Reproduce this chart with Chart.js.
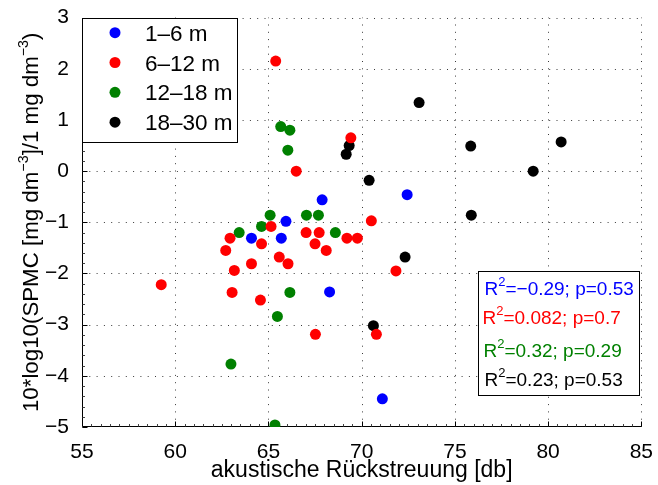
<!DOCTYPE html>
<html><head><meta charset="utf-8">
<script src="https://cdn.jsdelivr.net/npm/chart.js@4/dist/chart.umd.min.js"></script>
<style>html,body{margin:0;padding:0;background:#fff;}#wrap{width:658px;height:485px;position:relative;}</style>
</head><body><div id="wrap"><canvas id="c" width="658" height="485"></canvas></div>
<script>
// ---- data ----
const xTicks = [55, 60, 65, 70, 75, 80, 85];
const yTicks = [-5, -4, -3, -2, -1, 0, 1, 2, 3];
const seriesLabels = ['1–6 m', '6–12 m', '12–18 m', '18–30 m'];
const seriesColors = ['#0000ff', '#ff0000', '#008000', '#000000'];

const blueX = [67.88, 65.94, 64.09, 65.69, 68.28, 72.44, 71.11];
const blueY = [-0.56, -0.98, -1.31, -1.31, -2.36, -0.46, -4.45];

const redX = [65.39, 66.49, 69.42, 70.52, 65.14, 67.02, 67.72, 69.21, 69.77, 62.94, 64.63, 67.50, 62.71, 68.10, 65.58, 64.09, 66.05, 63.17, 71.84, 59.25, 63.05, 64.57, 67.52, 70.79];
const redY = [2.15, 0.00, 0.65, -0.97, -1.08, -1.20, -1.20, -1.31, -1.31, -1.31, -1.42, -1.42, -1.55, -1.55, -1.68, -1.81, -1.81, -1.94, -1.95, -2.22, -2.37, -2.52, -3.19, -3.19];

const greenX = [65.66, 66.15, 66.04, 65.09, 67.04, 67.68, 64.63, 63.43, 68.59, 66.15, 65.48, 62.99, 65.35];
const greenY = [0.87, 0.80, 0.41, -0.86, -0.86, -0.86, -1.08, -1.20, -1.20, -2.37, -2.84, -3.77, -4.96];

const blackX = [73.08, 69.33, 69.17, 75.85, 80.70, 79.20, 70.40, 75.88, 72.33, 70.63];
const blackY = [1.34, 0.50, 0.33, 0.49, 0.57, 0.00, -0.18, -0.86, -1.68, -3.02];

const statsR2 = ['−0.29', '0.082', '0.32', '0.23'];
const statsP = ['0.53', '0.7', '0.29', '0.53'];

const xTitle = 'akustische Rückstreuung [db]';
const yTitleParts = [['10*log10(SPMC [mg dm', false], ['−3', true], [']/1 mg dm', false], ['−3', true], [')', false]];

// ---- helpers ----
const FONT = "'Liberation Sans', Arial, Helvetica, sans-serif";
const pts = (xs, ys) => xs.map((x, i) => ({x: x, y: ys[i]}));
const fmt = v => (v < 0 ? '−' + Math.abs(v) : String(v));

function richWidth(ctx, parts, size, supSize) {
  let w = 0;
  for (const [t, sup] of parts) {
    ctx.font = (sup ? supSize : size) + 'px ' + FONT;
    w += ctx.measureText(t).width;
  }
  return w;
}
function drawRich(ctx, parts, x, y, size, supSize, rise) {
  let cx = x;
  for (const [t, sup] of parts) {
    ctx.font = (sup ? supSize : size) + 'px ' + FONT;
    ctx.fillText(t, cx, sup ? y - rise : y);
    cx += ctx.measureText(t).width;
  }
}

const matlabPlugin = {
  id: 'matlab',
  beforeDatasetsDraw(chart) {
    const ctx = chart.ctx, a = chart.chartArea;
    const xs = chart.scales.x, ys = chart.scales.y;
    ctx.save();
    ctx.strokeStyle = '#3a3a3a';
    ctx.lineWidth = 1;
    ctx.setLineDash([1, 6.3]);
    for (const v of xTicks) {
      if (v === xs.min) continue;
      const px = Math.round(xs.getPixelForValue(v)) + 0.5;
      ctx.beginPath(); ctx.moveTo(px, a.bottom); ctx.lineTo(px, a.top); ctx.stroke();
    }
    for (const v of yTicks) {
      if (v === ys.min) continue;
      const py = Math.round(ys.getPixelForValue(v)) + 0.5;
      ctx.beginPath(); ctx.moveTo(a.left, py); ctx.lineTo(a.right, py); ctx.stroke();
    }
    ctx.setLineDash([]);
    const L = Math.round(a.left) + 0.5, B = Math.round(a.bottom) - 0.5;
    ctx.strokeStyle = '#000';
    ctx.beginPath(); ctx.moveTo(L, Math.round(a.top)); ctx.lineTo(L, B); ctx.lineTo(Math.round(a.right), B); ctx.stroke();
    ctx.strokeStyle = '#444';
    for (let v = xs.min; v <= xs.max + 1e-9; v += 0.5) {
      const px = Math.round(xs.getPixelForValue(v)) + 0.5;
      ctx.beginPath(); ctx.moveTo(px, B); ctx.lineTo(px, B - 2.5); ctx.stroke();
    }
    for (let v = ys.min; v <= ys.max + 1e-9; v += 0.2) {
      const py = Math.round(ys.getPixelForValue(v)) + 0.5;
      ctx.beginPath(); ctx.moveTo(L, py); ctx.lineTo(L + 2.5, py); ctx.stroke();
    }
    ctx.strokeStyle = '#000';
    for (const v of xTicks) {
      const px = Math.round(xs.getPixelForValue(v)) + 0.5;
      ctx.beginPath(); ctx.moveTo(px, B); ctx.lineTo(px, B - 5); ctx.stroke();
    }
    for (const v of yTicks) {
      const py = Math.round(ys.getPixelForValue(v)) + 0.5;
      ctx.beginPath(); ctx.moveTo(L, py); ctx.lineTo(L + 5, py); ctx.stroke();
    }
    ctx.restore();
  },
  afterDatasetsDraw(chart) {
    const ctx = chart.ctx, a = chart.chartArea;
    ctx.save();
    const lx0 = Math.round(a.left) + 0.5, ly0 = Math.round(a.top) + 0.5;
    ctx.fillStyle = '#fff'; ctx.strokeStyle = '#000'; ctx.lineWidth = 1;
    ctx.fillRect(lx0, ly0, 155, 124);
    ctx.strokeRect(lx0, ly0, 155, 124);
    const rowY = [32.7, 62.5, 92.3, 122.2];
    ctx.textAlign = 'left'; ctx.textBaseline = 'alphabetic';
    ctx.font = '22.5px ' + FONT;
    for (let i = 0; i < 4; i++) {
      ctx.fillStyle = seriesColors[i];
      ctx.beginPath(); ctx.arc(115, rowY[i], 5.5, 0, Math.PI * 2); ctx.fill();
      ctx.fillStyle = '#000';
      ctx.fillText(seriesLabels[i], 145, rowY[i] + 8);
    }
    ctx.fillStyle = '#fff'; ctx.strokeStyle = '#000';
    ctx.fillRect(478.5, 271.5, 161, 124);
    ctx.strokeRect(478.5, 271.5, 161, 124);
    const sx = [484.5, 482.5, 483.5, 484.5];
    const sb = [294.5, 323.5, 356.5, 385.5];
    for (let i = 0; i < 4; i++) {
      ctx.fillStyle = seriesColors[i];
      drawRich(ctx, [['R', false], ['2', true], ['=' + statsR2[i] + '; p=' + statsP[i], false]], sx[i], sb[i], 19, 13, 9);
    }
    ctx.restore();
  },
  afterDraw(chart) {
    const ctx = chart.ctx, a = chart.chartArea;
    ctx.save();
    ctx.fillStyle = '#000';
    ctx.textAlign = 'center'; ctx.textBaseline = 'alphabetic';
    ctx.font = '23px ' + FONT;
    ctx.fillText(xTitle, (a.left + a.right) / 2, 477);
    ctx.textAlign = 'left';
    const w = richWidth(ctx, yTitleParts, 22.3, 14.3);
    ctx.translate(38, (a.top + a.bottom) / 2);
    ctx.rotate(-Math.PI / 2);
    drawRich(ctx, yTitleParts, -w / 2, 0, 22.3, 14.3, 10);
    ctx.restore();
  }
};

const mk = (i, xs, ys) => ({
  label: seriesLabels[i], data: pts(xs, ys),
  backgroundColor: seriesColors[i], borderColor: seriesColors[i], borderWidth: 0,
  pointRadius: 5.5, pointHoverRadius: 5.5
});

new Chart(document.getElementById('c'), {
  type: 'scatter',
  data: { datasets: [mk(0, blueX, blueY), mk(1, redX, redY), mk(2, greenX, greenY), mk(3, blackX, blackY)] },
  options: {
    responsive: false, animation: false, devicePixelRatio: 1,
    layout: { padding: { left: 0, top: 15, right: 13, bottom: 0 } },
    plugins: { legend: { display: false }, tooltip: { enabled: false } },
    scales: {
      x: {
        type: 'linear', min: 55, max: 85,
        afterBuildTicks: s => { s.ticks = xTicks.map(v => ({ value: v })); },
        afterFit: s => { s.height = 58; },
        grid: { display: false }, border: { display: false },
        ticks: { color: '#000', font: { family: FONT, size: 21 }, padding: 5, maxRotation: 0, callback: v => fmt(v) }
      },
      y: {
        type: 'linear', min: -5, max: 3,
        afterBuildTicks: s => { s.ticks = yTicks.map(v => ({ value: v })); },
        afterFit: s => { s.width = 82; },
        grid: { display: false }, border: { display: false },
        ticks: { color: '#000', font: { family: FONT, size: 21 }, padding: 5, callback: v => fmt(v) }
      }
    }
  },
  plugins: [matlabPlugin]
});
</script></body></html>
